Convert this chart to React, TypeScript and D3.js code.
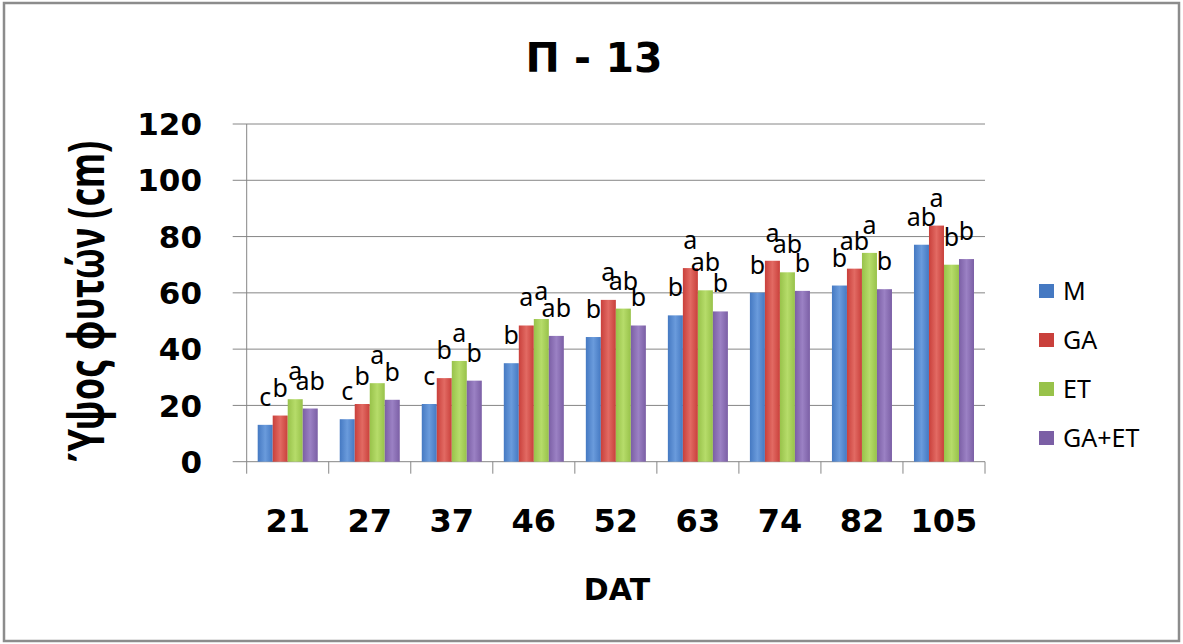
import React from 'react';
import * as d3 from 'd3';

const categories = ['21', '27', '37', '46', '52', '63', '74', '82', '105'];
const seriesNames = ['M', 'GA', 'ET', 'GA+ET'];
const valuesM = [13.1, 15.1, 20.5, 35.0, 44.3, 52.0, 60.1, 62.6, 77.1];
const valuesGA = [16.4, 20.5, 29.7, 48.4, 57.5, 68.8, 71.4, 68.6, 83.9];
const valuesET = [22.2, 27.9, 35.8, 50.7, 54.4, 60.9, 67.3, 74.2, 70.0];
const valuesGAET = [18.9, 22.0, 28.8, 44.7, 48.4, 53.4, 60.7, 61.3, 72.0];
const lettersM = ['c', 'c', 'c', 'b', 'b', 'b', 'b', 'b', 'ab'];
const lettersGA = ['b', 'b', 'b', 'a', 'a', 'a', 'a', 'ab', 'a'];
const lettersET = ['a', 'a', 'a', 'a', 'ab', 'ab', 'ab', 'a', 'b'];
const lettersGAET = ['ab', 'b', 'b', 'ab', 'b', 'b', 'b', 'b', 'b'];
const yTicks = [0, 20, 40, 60, 80, 100, 120];

const seriesValues = [valuesM, valuesGA, valuesET, valuesGAET];
const seriesLetters = [lettersM, lettersGA, lettersET, lettersGAET];
const colors = ['#4579C2', '#C9403B', '#98C24A', '#7B5FA5'];
const lightColors = ['#6A9BDC', '#E26A63', '#B6DC6A', '#9B81C4'];

const W = 1183;
const H = 644;
const plotLeft = 246.7;
const plotRight = 985;
const plotTop = 124;
const plotBottom = 461.7;

export default function App() {
  const x0 = d3.scaleBand<string>().domain(categories).range([plotLeft, plotRight]).paddingInner(0).paddingOuter(0);
  const x1 = d3.scaleBand<string>().domain(seriesNames).range([0, x0.bandwidth()]).paddingInner(0).paddingOuter(0.733);
  const y = d3.scaleLinear().domain([0, 120]).range([plotBottom, plotTop]);
  const tickFont = "'DejaVu Sans', Verdana, sans-serif";
  const labelFont = "'Noto Sans', 'Open Sans', sans-serif";

  const boundaries = categories.map((c) => x0(c) as number).concat([plotRight]);

  return (
    <svg width={W} height={H} style={{ position: 'absolute', left: 0, top: 0, background: '#fff' }}>
      <defs>
        {colors.map((c, i) => (
          <linearGradient key={i} id={`g${i}`} x1="0" x2="1" y1="0" y2="0">
            <stop offset="0" stopColor={c} />
            <stop offset="0.5" stopColor={lightColors[i]} />
            <stop offset="1" stopColor={c} />
          </linearGradient>
        ))}
      </defs>
      <rect x={0} y={0} width={W} height={H} fill="#fff" />
      <rect x={4} y={3} width={1175} height={638} fill="#fff" stroke="#8c8c8c" strokeWidth={2.5} />

      {/* title */}
      <text x={594} y={72} textAnchor="middle" fontFamily={tickFont} fontWeight="bold" fontSize={41} fill="#000">
        Π - 13
      </text>

      {/* gridlines */}
      {yTicks.map((t) => (
        <line key={t} x1={plotLeft - 14} x2={plotRight} y1={y(t)} y2={y(t)} stroke="#868686" strokeWidth={1} />
      ))}
      {/* y axis */}
      <line x1={plotLeft} x2={plotLeft} y1={plotTop} y2={plotBottom} stroke="#868686" strokeWidth={1} />
      {/* x ticks */}
      {boundaries.map((b, i) => (
        <line key={i} x1={b} x2={b} y1={plotBottom} y2={plotBottom + 12} stroke="#868686" strokeWidth={1} />
      ))}

      {/* y tick labels */}
      {yTicks.map((t) => (
        <text key={t} x={202} y={y(t)} dy="0.36em" textAnchor="end" fontFamily={tickFont} fontWeight="bold" fontSize={31} fill="#000">
          {t}
        </text>
      ))}

      {/* bars */}
      {categories.map((c, ci) => (
        <g key={c} transform={`translate(${x0(c)},0)`}>
          {seriesNames.map((s, si) => {
            const v = seriesValues[si][ci];
            return (
              <rect key={s} x={x1(s)} y={y(v)} width={x1.bandwidth()} height={plotBottom - y(v)} fill={`url(#g${si})`} />
            );
          })}
        </g>
      ))}

      {/* data labels */}
      {categories.map((c, ci) => (
        <g key={c} transform={`translate(${x0(c)},0)`}>
          {seriesNames.map((s, si) => {
            const v = seriesValues[si][ci];
            return (
              <text key={s} x={(x1(s) as number) + x1.bandwidth() / 2} y={y(v) - 19} textAnchor="middle" fontFamily={labelFont} fontSize={25} fill="#000">
                {seriesLetters[si][ci]}
              </text>
            );
          })}
        </g>
      ))}

      {/* x labels */}
      {categories.map((c) => (
        <text key={c} x={(x0(c) as number) + x0.bandwidth() / 2} y={532} textAnchor="middle" fontFamily={tickFont} fontWeight="bold" fontSize={32} fill="#000">
          {c}
        </text>
      ))}

      {/* x axis title */}
      <text x={617} y={600} textAnchor="middle" fontFamily={tickFont} fontWeight="bold" fontSize={30} fill="#000">
        DAT
      </text>

      {/* y axis title */}
      <text transform="translate(104,301) rotate(-90) scale(1,1.4)" textAnchor="middle" fontFamily={labelFont} fontWeight="bold" fontSize={36} fill="#000">
        Ύψος φυτών (cm)
      </text>

      {/* legend */}
      {seriesNames.map((s, i) => {
        const cy = 291 + i * 49;
        return (
          <g key={s}>
            <rect x={1039} y={cy - 7} width={15} height={14} fill={colors[i]} />
            <text x={1063} y={cy} dy="0.36em" fontFamily={labelFont} fontSize={25} fill="#000">
              {s}
            </text>
          </g>
        );
      })}
    </svg>
  );
}
